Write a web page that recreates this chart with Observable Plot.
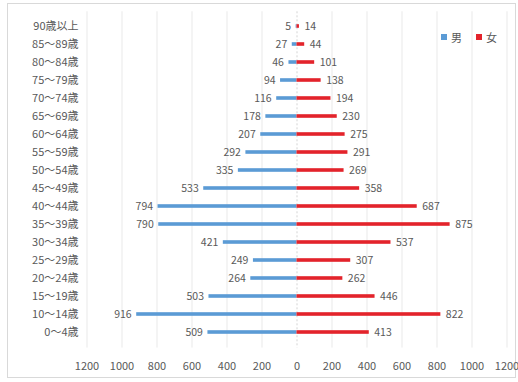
<!DOCTYPE html>
<html>
<head>
<meta charset="utf-8">
<script src="https://cdn.jsdelivr.net/npm/d3@7"></script>
<script src="https://cdn.jsdelivr.net/npm/@observablehq/plot@0.6"></script>
<style>
  body { margin: 0; background: #fff; }
  #wrap { position: relative; width: 518px; height: 382px; font-family: "Noto Sans CJK JP", sans-serif; }
  #frame { position: absolute; left: 7px; top: 3px; width: 509px; height: 375px; border: 1px solid #d9d9d9; box-sizing: border-box; }
  #chart { position: absolute; left: 0; top: 0; }
  #legend { position: absolute; left: 441px; top: 29px; font-size: 11px; color: #595959; display: flex; align-items: center; gap: 4px; }
  #legend .sw { display: inline-block; width: 6px; height: 6px; }
  #legend .item { display: flex; align-items: center; gap: 4px; margin-right: 10px; }
</style>
</head>
<body>
<div id="wrap">
  <div id="frame"></div>
  <div id="chart"></div>
  <div id="legend"></div>
</div>
<script>
// Age groups, oldest at the top
const ages = ["90歳以上","85～89歳","80～84歳","75～79歳","70～74歳","65～69歳","60～64歳","55～59歳","50～54歳","45～49歳","40～44歳","35～39歳","30～34歳","25～29歳","20～24歳","15～19歳","10～14歳","0～4歳"];
const male   = [5, 27, 46, 94, 116, 178, 207, 292, 335, 533, 794, 790, 421, 249, 264, 503, 916, 509];
const female = [14, 44, 101, 138, 194, 230, 275, 291, 269, 358, 687, 875, 537, 307, 262, 446, 822, 413];
const sexes = ["男", "女"];
const colors = ["#5b9bd5", "#e3232b"];
const xTicks = [-1200, -1000, -800, -600, -400, -200, 0, 200, 400, 600, 800, 1000, 1200];

const menRows = ages.map((age, i) => ({age, sex: sexes[0], value: male[i], signed: -male[i]}));
const womenRows = ages.map((age, i) => ({age, sex: sexes[1], value: female[i], signed: female[i]}));
const rows = menRows.concat(womenRows);

const chart = Plot.plot({
  width: 518,
  height: 382,
  marginLeft: 86.5,
  marginRight: 11.5,
  marginTop: 11.3,
  marginBottom: 34.4,
  style: {fontFamily: "'Noto Sans CJK JP', sans-serif", fontSize: "11px", color: "#595959", background: "transparent"},
  x: {domain: [-1200, 1200], ticks: xTicks, tickFormat: d => String(Math.abs(d)), tickSize: 0, tickPadding: 14, label: null},
  y: {domain: ages, padding: 0, tickSize: 0, tickPadding: 8.5, label: null},
  color: {domain: sexes, range: colors},
  marks: [
    Plot.gridX(xTicks.filter(d => d !== 0), {stroke: "#e9e9e9", strokeOpacity: 1}),
    Plot.ruleX([0], {stroke: "#d4d4d4", strokeDasharray: "2,2"}),
    Plot.barX(rows, {y: "age", x1: 0, x2: "signed", fill: "sex", insetTop: 7.2, insetBottom: 7.2}),
    Plot.text(menRows, {y: "age", x: "signed", text: "value", textAnchor: "end", dx: -5, fill: "#595959", fontSize: 10.5}),
    Plot.text(womenRows, {y: "age", x: "signed", text: "value", textAnchor: "start", dx: 5, fill: "#595959", fontSize: 10.5})
  ]
});
document.getElementById("chart").appendChild(chart);

// Legend swatches
const legend = document.getElementById("legend");
sexes.forEach((s, i) => {
  const item = document.createElement("span");
  item.className = "item";
  const sw = document.createElement("span");
  sw.className = "sw";
  sw.style.background = colors[i];
  const lab = document.createElement("span");
  lab.textContent = s;
  item.appendChild(sw);
  item.appendChild(lab);
  legend.appendChild(item);
});
</script>
</body>
</html>
